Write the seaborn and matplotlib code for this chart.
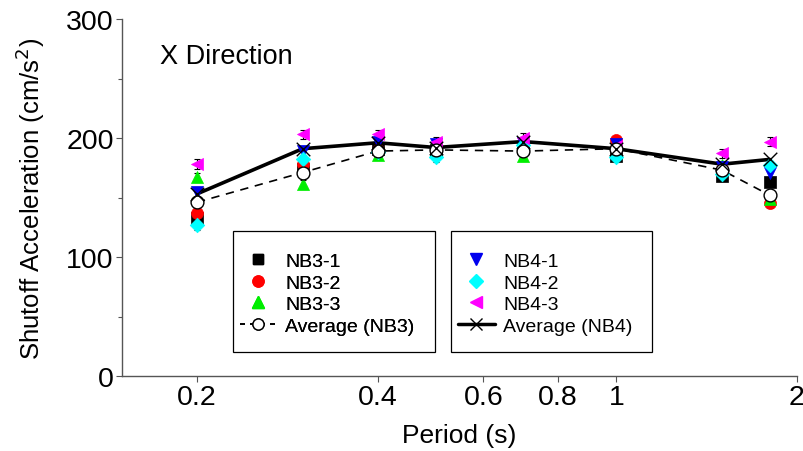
import matplotlib
matplotlib.use("Agg")
import matplotlib.pyplot as plt
import matplotlib.transforms as mtransforms
import seaborn as sns
import pandas as pd
from matplotlib.lines import Line2D
from matplotlib.patches import Rectangle
from matplotlib.ticker import FixedLocator, NullLocator, MultipleLocator

periods = [0.2, 0.3, 0.4, 0.5, 0.7, 1.0, 1.5, 1.8]
nb3_1 = [133, 174, 191, 190, 192, 185, 168, 163]
nb3_2 = [137, 178, 190, 190, 190, 198, 174, 145]
nb3_3 = [167, 161, 186, 189, 185, 189, 177, 149]
nb4_1 = [155, 189, 197, 195, 196, 195, 176, 171]
nb4_2 = [127, 182, 188, 184, 194, 184, 170, 177]
nb4_3 = [178, 203, 203, 197, 200, 193, 187, 197]
avg_nb3 = [146, 171, 189, 190, 189, 191, 173, 152]
avg_nb4 = [153, 191, 196, 192, 197, 191, 178, 182]
err = [4, 4, 4, 4, 4, 4, 4, 4]

xticks = [0.2, 0.4, 0.6, 0.8, 1, 2]
xticklabels = ["0.2", "0.4", "0.6", "0.8", "1", "2"]
yticks = [0, 100, 200, 300]

sns.set_theme(style="white")
plt.rcParams['font.family'] = ['Liberation Sans', 'DejaVu Sans']
plt.rcParams['text.color'] = 'black'
plt.rcParams['axes.labelcolor'] = 'black'
plt.rcParams['xtick.color'] = 'black'
plt.rcParams['ytick.color'] = 'black'

fig = plt.figure(figsize=(8.04, 4.52), dpi=100)
ax = fig.add_axes([122/804, 1-377/452, (797-122)/804, (377-20)/452])

series = [
    ("NB3-1", nb3_1, "s", "black"),
    ("NB3-2", nb3_2, "o", "red"),
    ("NB3-3", nb3_3, "^", "#00ee00"),
    ("NB4-1", nb4_1, "v", "#0000ee"),
    ("NB4-2", nb4_2, "D", "cyan"),
    ("NB4-3", nb4_3, "<", "magenta"),
]

rows = []
for name, vals, m, c in series:
    for p, v in zip(periods, vals):
        rows.append({"period": p, "acc": v, "series": name})
df = pd.DataFrame(rows)

for name, vals, m, c in series:
    ax.errorbar(periods, vals, yerr=err, fmt="none", ecolor="black",
                elinewidth=0.8, capsize=2.5, capthick=0.8, zorder=2)

avg_df = pd.DataFrame({"period": periods * 2,
                       "acc": avg_nb3 + avg_nb4,
                       "series": ["Average (NB3)"] * len(periods) + ["Average (NB4)"] * len(periods)})

sns.lineplot(data=avg_df[avg_df.series == "Average (NB3)"], x="period", y="acc",
             ax=ax, color="black", lw=1.2, linestyle=(0, (5, 4)), zorder=3, legend=False)
sns.lineplot(data=avg_df[avg_df.series == "Average (NB4)"], x="period", y="acc",
             ax=ax, color="black", lw=2.6, zorder=3, legend=False)

for name, vals, m, c in series:
    sns.scatterplot(data=df[df.series == name], x="period", y="acc", ax=ax,
                    marker=m, color=c, s=75 if m != "D" else 55, edgecolor=c,
                    linewidth=0.5, zorder=4, legend=False)

ax.scatter(periods, avg_nb3, marker="o", s=85, facecolor="white",
           edgecolor="black", linewidth=1.0, zorder=5)
ax.scatter(periods, avg_nb4, marker="x", s=95, color="black",
           linewidth=1.0, zorder=6)

ax.set_xscale("log")
ax.set_xlim(0.15, 2.0)
ax.set_ylim(0, 300)
ax.xaxis.set_major_locator(FixedLocator(xticks))
ax.set_xticklabels(xticklabels)
ax.xaxis.set_minor_locator(NullLocator())
ax.yaxis.set_major_locator(FixedLocator(yticks))
ax.yaxis.set_minor_locator(MultipleLocator(50))

for s in ["top", "right"]:
    ax.spines[s].set_visible(False)
for s in ["left", "bottom"]:
    ax.spines[s].set_color("#555555")
    ax.spines[s].set_linewidth(1.0)

ax.tick_params(axis="both", which="major", direction="out", length=4,
               width=0.8, color="#555555", labelsize=20.5, pad=2,
               left=True, bottom=True, labelcolor="black")
ax.tick_params(axis="y", which="minor", direction="out", length=3,
               width=0.8, color="#555555", left=True)

ax.set_xlabel("Period (s)", fontsize=19, labelpad=9, color="black")
ax.set_ylabel("Shutoff Acceleration (cm/s$^2$)", fontsize=18.5, labelpad=14, color="black")
tr = mtransforms.Affine2D().scale(1, -1).translate(0, 452)
fig.text(160, 57, "X Direction", transform=tr, fontsize=19.5,
         va="center", ha="left", color="black")

h1 = [
    Line2D([], [], marker="s", color="black", ls="none", ms=7),
    Line2D([], [], marker="o", color="red", ls="none", ms=8),
    Line2D([], [], marker="^", color="#00ee00", ls="none", ms=8),
    Line2D([], [], marker="o", color="black", mfc="white", ls=(0, (3, 3)), lw=1.2, ms=8),
]
l1 = ["NB3-1", "NB3-2", "NB3-3", "Average (NB3)"]
h2 = [
    Line2D([], [], marker="v", color="#0000ee", ls="none", ms=8),
    Line2D([], [], marker="D", color="cyan", ls="none", ms=7),
    Line2D([], [], marker="<", color="magenta", ls="none", ms=8),
    Line2D([], [], marker="x", color="black", ls="-", lw=2.5, ms=9, mew=1.0),
]
l2 = ["NB4-1", "NB4-2", "NB4-3", "Average (NB4)"]

def mk_leg(h, l, x0, x1):
    y0, y1 = 232, 353
    rect = Rectangle((x0/804, 1 - y1/452), (x1 - x0)/804, (y1 - y0)/452,
                     transform=fig.transFigure, facecolor="white",
                     edgecolor="black", linewidth=0.9, zorder=9)
    fig.add_artist(rect)
    bbox = (x0/804, 1 - (y1 + 2)/452, (x1 - x0)/804, (y1 - y0)/452)
    leg = fig.legend(h, l, loc="center", bbox_to_anchor=bbox, fontsize=14,
                     frameon=False, handlelength=1.9,
                     handletextpad=0.45, labelspacing=0.2, borderaxespad=0,
                     mode="expand", borderpad=0.35, labelcolor="black")
    leg.set_zorder(10)
    return leg

leg1 = mk_leg(h1, l1, 233, 435)
leg2 = mk_leg(h2, l2, 451, 652)
fig.add_artist(leg1)

fig.savefig("out.png", dpi=100)
